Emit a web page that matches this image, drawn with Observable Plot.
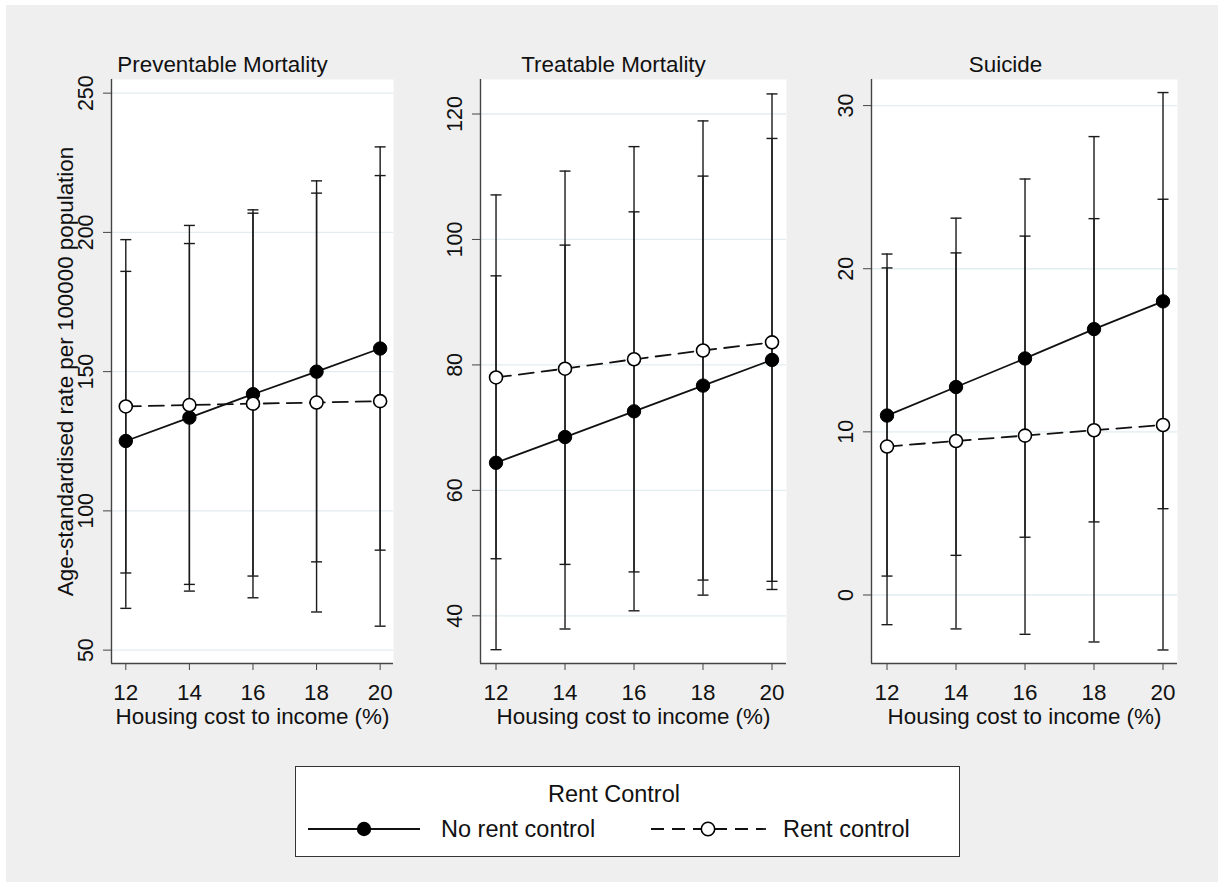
<!DOCTYPE html>
<html><head><meta charset="utf-8">
<script src="https://cdn.jsdelivr.net/npm/d3@7"></script>
<script src="https://cdn.jsdelivr.net/npm/@observablehq/plot@0.6"></script>
<style>
body{margin:0;background:#fff;font-family:"Liberation Sans",Arial,sans-serif;}
#root{position:relative;width:1218px;height:882px;overflow:hidden;background:#fff;}
#bg{position:absolute;left:6px;top:5px;width:1212px;height:877px;background:#efefef;}
.panel{position:absolute;top:40px;}
#legend{position:absolute;left:295px;top:766px;width:665px;height:91px;box-sizing:border-box;border:1.3px solid #333;background:#fff;}
#legend svg{position:absolute;left:0;top:0;}
</style></head><body>
<div id="root"><div id="bg"></div></div>
<script>
// ---- data ----
const housing = [12, 14, 16, 18, 20];
const xTicks = [12, 14, 16, 18, 20];
const seriesNames = ["No rent control", "Rent control"];

const prevNoMean = [125.1, 133.5, 141.9, 150.0, 158.3];
const prevNoLo = [65.0, 71.2, 76.6, 81.7, 85.9];
const prevNoHi = [186.0, 196.0, 208.1, 218.5, 230.7];
const prevRentMean = [137.5, 138.0, 138.5, 138.9, 139.4];
const prevRentLo = [77.7, 73.6, 68.8, 63.7, 58.6];
const prevRentHi = [197.4, 202.5, 206.9, 214.1, 220.4];
const prevTicks = [50, 100, 150, 200, 250];

const treatNoMean = [64.4, 68.5, 72.6, 76.7, 80.8];
const treatNoLo = [34.6, 37.9, 40.8, 43.3, 45.5];
const treatNoHi = [94.2, 99.1, 104.4, 110.1, 116.1];
const treatRentMean = [78.0, 79.4, 80.9, 82.3, 83.6];
const treatRentLo = [49.1, 48.2, 47.0, 45.7, 44.2];
const treatRentHi = [107.1, 110.9, 114.8, 118.9, 123.2];
const treatTicks = [40, 60, 80, 100, 120];

const suiNoMean = [11.0, 12.75, 14.5, 16.3, 18.0];
const suiNoLo = [1.16, 2.43, 3.54, 4.48, 5.29];
const suiNoHi = [20.9, 23.1, 25.5, 28.1, 30.8];
const suiRentMean = [9.1, 9.44, 9.77, 10.1, 10.42];
const suiRentLo = [-1.82, -2.08, -2.41, -2.88, -3.37];
const suiRentHi = [20.05, 20.97, 22.0, 23.07, 24.26];
const suiTicks = [0, 10, 20, 30];

const xTitle = "Housing cost to income (%)";
const yTitle = "Age-standardised rate per 100000 population";
const legendTitle = "Rent Control";

// ---- drawing ----
const FONT = '"Liberation Sans", Arial, sans-serif';
const capSymbol = {draw(ctx, size) { const w = Math.sqrt(size / Math.PI); ctx.moveTo(-w, 0); ctx.lineTo(w, 0); }};
const xDomain = [11.55, 20.42];

function makeRows(mean, lo, hi, series) {
  return housing.map((x, i) => ({x, mean: mean[i], lo: lo[i], hi: hi[i], series}));
}

function panel(o) {
  const noRows = makeRows(o.noMean, o.noLo, o.noHi, seriesNames[0]);
  const rentRows = makeRows(o.rentMean, o.rentLo, o.rentHi, seriesNames[1]);
  const rows = noRows.concat(rentRows);
  const ink = "#1a1a1a";
  const txt = {fontSize: 22.4, fill: "#111", textAnchor: "middle", lineAnchor: "middle"};
  const chart = Plot.plot({
    width: o.width, height: 700,
    marginLeft: o.mLeft, marginRight: o.mRight, marginTop: 39, marginBottom: 77,
    style: {background: "transparent", overflow: "visible", fontFamily: FONT, color: "#111"},
    x: {domain: xDomain},
    y: {domain: o.yDomain},
    marks: [
      Plot.frame({fill: "#fff", stroke: "none"}),
      Plot.gridY(o.yTicks, {stroke: "#e2edf0", strokeOpacity: 1, strokeWidth: 1.3}),
      Plot.ruleX(rows, {x: "x", y1: "lo", y2: "hi", stroke: ink, strokeWidth: 1.4}),
      Plot.dot(rows, {x: "x", y: "lo", symbol: capSymbol, r: 5.5, fill: "none", stroke: ink, strokeWidth: 1.4}),
      Plot.dot(rows, {x: "x", y: "hi", symbol: capSymbol, r: 5.5, fill: "none", stroke: ink, strokeWidth: 1.4}),
      Plot.line(noRows, {x: "x", y: "mean", stroke: "#111", strokeWidth: 1.8}),
      Plot.line(rentRows, {x: "x", y: "mean", stroke: "#111", strokeWidth: 1.8, strokeDasharray: "15,8"}),
      Plot.dot(noRows, {x: "x", y: "mean", r: 6.7, fill: "#000", stroke: "#000", strokeWidth: 1}),
      Plot.dot(rentRows, {x: "x", y: "mean", r: 6.5, fill: "#fff", stroke: "#000", strokeWidth: 1.6}),
      Plot.ruleX([xDomain[0]], {stroke: "#444", strokeWidth: 1.4}),
      Plot.ruleY([o.yDomain[0]], {stroke: "#444", strokeWidth: 1.4}),
      Plot.axisY({ticks: o.yTicks, tickSize: 8, tickFormat: () => "", label: null, stroke: "#444"}),
      Plot.text(o.yTicks, {y: d => d, text: d => String(d), frameAnchor: "left", dx: -25, rotate: -90, ...txt, fontSize: 21.5}),
      Plot.axisX({ticks: xTicks, tickSize: 7, tickPadding: 14, fontSize: 22.4, label: null, stroke: "#444", fill: "#111"}),
      Plot.text([xTitle], {frameAnchor: "bottom", dy: 53, ...txt}),
      Plot.text([o.title], {frameAnchor: "top", dx: o.titleDx, dy: -15, ...txt}),
      o.yLabel ? Plot.text([o.yLabel], {frameAnchor: "left", dx: -46, rotate: -90, ...txt}) : null
    ]
  });
  chart.classList.add("panel");
  chart.style.left = o.left + "px";
  chart.style.position = "absolute";
  chart.style.top = "40px";
  document.getElementById("root").appendChild(chart);
}

panel({title: "Preventable Mortality", titleDx: -30, yLabel: yTitle,
  yTicks: prevTicks, yDomain: [45.2, 254.9],
  noMean: prevNoMean, noLo: prevNoLo, noHi: prevNoHi,
  rentMean: prevRentMean, rentLo: prevRentLo, rentHi: prevRentHi,
  left: 30, width: 380, mLeft: 81, mRight: 17});

panel({title: "Treatable Mortality", titleDx: -20,
  yTicks: treatTicks, yDomain: [32.4, 125.5],
  noMean: treatNoMean, noLo: treatNoLo, noHi: treatNoHi,
  rentMean: treatRentMean, rentLo: treatRentLo, rentHi: treatRentHi,
  left: 420, width: 380, mLeft: 60, mRight: 14});

panel({title: "Suicide", titleDx: -19,
  yTicks: suiTicks, yDomain: [-4.2, 31.6],
  noMean: suiNoMean, noLo: suiNoLo, noHi: suiNoHi,
  rentMean: suiRentMean, rentLo: suiRentLo, rentHi: suiRentHi,
  left: 810, width: 390, mLeft: 61, mRight: 23});

// ---- legend ----
const leg = document.createElement("div");
leg.id = "legend";
leg.innerHTML = `<svg width="663" height="89" font-family='${FONT}' font-size="23.5" fill="#111">
  <text x="318" y="27" text-anchor="middle" dominant-baseline="central">${legendTitle}</text>
  <line x1="12" x2="124" y1="62" y2="62" stroke="#111" stroke-width="1.8"/>
  <circle cx="68" cy="62" r="7.2" fill="#000"/>
  <text x="145" y="62" dominant-baseline="central">${seriesNames[0]}</text>
  <line x1="355" x2="470" y1="62" y2="62" stroke="#111" stroke-width="1.8" stroke-dasharray="13,8"/>
  <circle cx="412" cy="62" r="6.7" fill="#fff" stroke="#000" stroke-width="1.6"/>
  <text x="487" y="62" dominant-baseline="central">${seriesNames[1]}</text>
</svg>`;
document.getElementById("root").appendChild(leg);
</script>
</body></html>
